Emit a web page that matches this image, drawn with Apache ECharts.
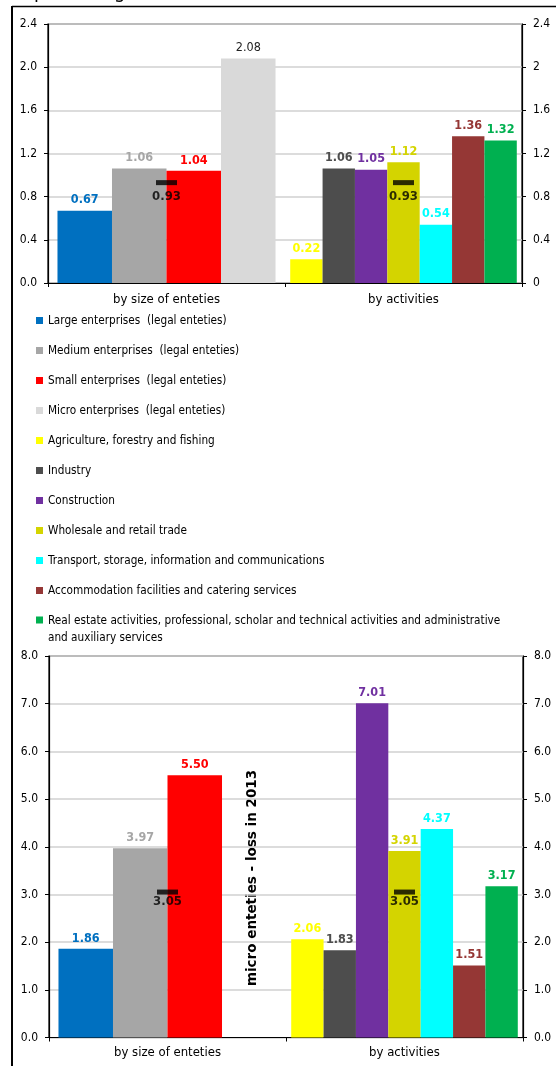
<!DOCTYPE html>
<html>
<head>
<meta charset="utf-8">
<script src="https://cdn.jsdelivr.net/npm/echarts@6/dist/echarts.min.js"></script>
<style>
  html, body { margin: 0; padding: 0; background: #fff; }
  #chart { width: 556px; height: 1066px; }
</style>
</head>
<body>
<div id="chart"></div>
<script>
// ---- data ----
const categories = ['by size of enteties', 'by activities'];

const sizeNames = [
  'Large enterprises  (legal enteties)',
  'Medium enterprises  (legal enteties)',
  'Small enterprises  (legal enteties)',
  'Micro enterprises  (legal enteties)'
];
const activityNames = [
  'Agriculture, forestry and fishing',
  'Industry',
  'Construction',
  'Wholesale and retail trade',
  'Transport, storage, information and communications',
  'Accommodation facilities and catering services',
  'Real estate activities, professional, scholar and technical activities and administrative and auxiliary services'
];

// upper panel: share, in percentage
const sizeShare = [0.67, 1.06, 1.04, 2.08];
const activityShare = [0.22, 1.06, 1.05, 1.12, 0.54, 1.36, 1.32];
const totalShare = 0.93;

// lower panel: loss, in percentage (no micro value)
const sizeLoss = [1.86, 3.97, 5.50, null];
const activityLoss = [2.06, 1.83, 7.01, 3.91, 4.37, 1.51, 3.17];
const totalLoss = 3.05;

const upperScale = { min: 0, max: 2.4, interval: 0.4 };
const lowerScale = { min: 0, max: 8, interval: 1 };

// ---- styling ----
const FONT = "'DejaVu Sans Condensed', 'DejaVu Sans', sans-serif";
const WIDE = "'DejaVu Sans', sans-serif";
const sizeColors = ['#0070c0', '#a6a6a6', '#ff0000', '#d9d9d9'];
const activityColors = ['#ffff00', '#4d4d4d', '#7030a0', '#d4d400', '#00ffff', '#953735', '#00b050'];

const chart = echarts.init(document.getElementById('chart'), null, { renderer: 'canvas' });

const grids = [
  { left: 48, right: 34, top: 24, height: 259 },
  { left: 49, right: 33, top: 656, height: 381.5 }
];

function catAxis(gridIndex, visible) {
  return {
    type: 'category', gridIndex, data: categories, show: visible,
    axisLine: { lineStyle: { color: '#000', width: 1.2 } },
    axisTick: { show: true, length: 4, lineStyle: { color: '#000' } },
    axisLabel: { color: '#000', fontFamily: FONT, fontSize: 13, margin: gridIndex === 0 ? 10 : 9 }
  };
}
function valAxis(gridIndex, scale, side, fmt) {
  return {
    type: 'value', gridIndex, position: side,
    min: scale.min, max: scale.max, interval: scale.interval,
    axisLine: { show: true, lineStyle: { color: '#000', width: 1.2 } },
    axisTick: { show: true, length: 4, lineStyle: { color: '#000' } },
    axisLabel: { color: '#000', fontFamily: FONT, fontSize: 12, margin: 11, formatter: fmt },
    splitLine: { show: side === 'left', lineStyle: { color: '#d0d0d0', width: 1.5 } }
  };
}
const fixed1 = v => v.toFixed(1);
const trimmed = v => String(parseFloat(v.toFixed(1)));

function barLabel(color, bold) {
  return {
    show: true, position: 'top', distance: 4,
    color, fontFamily: FONT, fontSize: 12.5, fontWeight: bold ? 'bold' : 'normal',
    formatter: p => (p.value == null ? '' : p.value.toFixed(2))
  };
}

const series = [];
// enterprise-size bars (own category axis so they cluster as four)
sizeNames.forEach((name, i) => {
  const micro = i === 3;
  [[sizeShare, 0, 0], [sizeLoss, 2, 2]].forEach(([vals, xi, yi]) => {
    series.push({
      type: 'bar', name, xAxisIndex: xi, yAxisIndex: yi,
      data: [vals[i], null],
      barGap: '0%', barCategoryGap: '8%',
      itemStyle: { color: sizeColors[i] },
      label: micro ? barLabel('#222', false) : barLabel(sizeColors[i], true),
      emphasis: { disabled: true }
    });
  });
});
// activity bars (clustered as seven)
activityNames.forEach((name, i) => {
  [[activityShare, 1, 0], [activityLoss, 3, 2]].forEach(([vals, xi, yi]) => {
    series.push({
      type: 'bar', name, xAxisIndex: xi, yAxisIndex: yi,
      data: [null, vals[i]],
      barGap: '0%', barCategoryGap: '4.4%',
      itemStyle: { color: activityColors[i] },
      label: barLabel(activityColors[i], true),
      emphasis: { disabled: true }
    });
  });
});
// overall level as a dash in each group
[[totalShare, 0, 0, 5], [totalLoss, 2, 2, 1]].forEach(([v, xi, yi, gap]) => {
  series.push({
    type: 'scatter', name: 'total', xAxisIndex: xi, yAxisIndex: yi,
    data: [v, v], symbol: 'rect', symbolSize: [21, 5], z: 5,
    itemStyle: { color: '#000' },
    label: {
      show: true, position: 'bottom', distance: gap,
      color: '#000', fontFamily: FONT, fontSize: 13, fontWeight: 'bold',
      formatter: p => p.value.toFixed(2)
    },
    emphasis: { disabled: true }
  });
});

const legendNames = sizeNames.concat(activityNames);
const colorOf = n => {
  const i = legendNames.indexOf(n);
  return i < 4 ? sizeColors[i] : activityColors[i - 4];
};
const longName = activityNames[6];
const legendText = { color: '#000', fontFamily: FONT, fontSize: 11.7, lineHeight: 17 };

chart.setOption({
  animation: false,
  backgroundColor: '#fff',
  grid: grids.map(g => Object.assign({ show: true, borderColor: '#000', borderWidth: 1.2, containLabel: false }, g)),
  xAxis: [catAxis(0, true), catAxis(0, false), catAxis(1, true), catAxis(1, false)],
  yAxis: [
    valAxis(0, upperScale, 'left', fixed1),
    valAxis(0, upperScale, 'right', trimmed),
    valAxis(1, lowerScale, 'left', fixed1),
    valAxis(1, lowerScale, 'right', fixed1)
  ],
  legend: [
    {
      orient: 'vertical', left: 36, top: 312, padding: 0,
      itemWidth: 7, itemHeight: 7, itemGap: 13, icon: 'rect',
      selectedMode: false,
      data: legendNames.slice(0, 10).map(n => ({ name: n, itemStyle: { color: colorOf(n) } })),
      textStyle: legendText
    },
    {
      // two-line entry: the marker sits beside the first line
      orient: 'vertical', left: 36, top: 612.5, padding: 0,
      itemWidth: 7, itemHeight: 26, symbolKeepAspect: true,
      icon: 'path://M0,0h7v7h-7z M0,26h0.01v0.01h-0.01z',
      selectedMode: false,
      data: [{ name: longName, itemStyle: { color: colorOf(longName) } }],
      textStyle: legendText,
      formatter: n => n.replace('administrative and', 'administrative\nand')
    }
  ],
  graphic: [
    { type: 'line', shape: { x1: 12, y1: 6, x2: 12, y2: 1066 }, style: { stroke: '#000', lineWidth: 2 } },
    { type: 'line', shape: { x1: 12, y1: 6.5, x2: 556, y2: 6.5 }, style: { stroke: '#000', lineWidth: 1.3 } },
    { type: 'text', x: 12, y: 3, style: { text: 'in percentage', fontFamily: FONT, fontSize: 20, fill: '#000', verticalAlign: 'bottom' } },
    { type: 'text', x: 252, y: 878, rotation: Math.PI / 2,
      style: { text: 'micro enteties - loss in 2013', fontFamily: WIDE, fontSize: 13.5, fontWeight: 'bold', fill: '#000', align: 'center', verticalAlign: 'middle' } }
  ],
  series
});
</script>
</body>
</html>
